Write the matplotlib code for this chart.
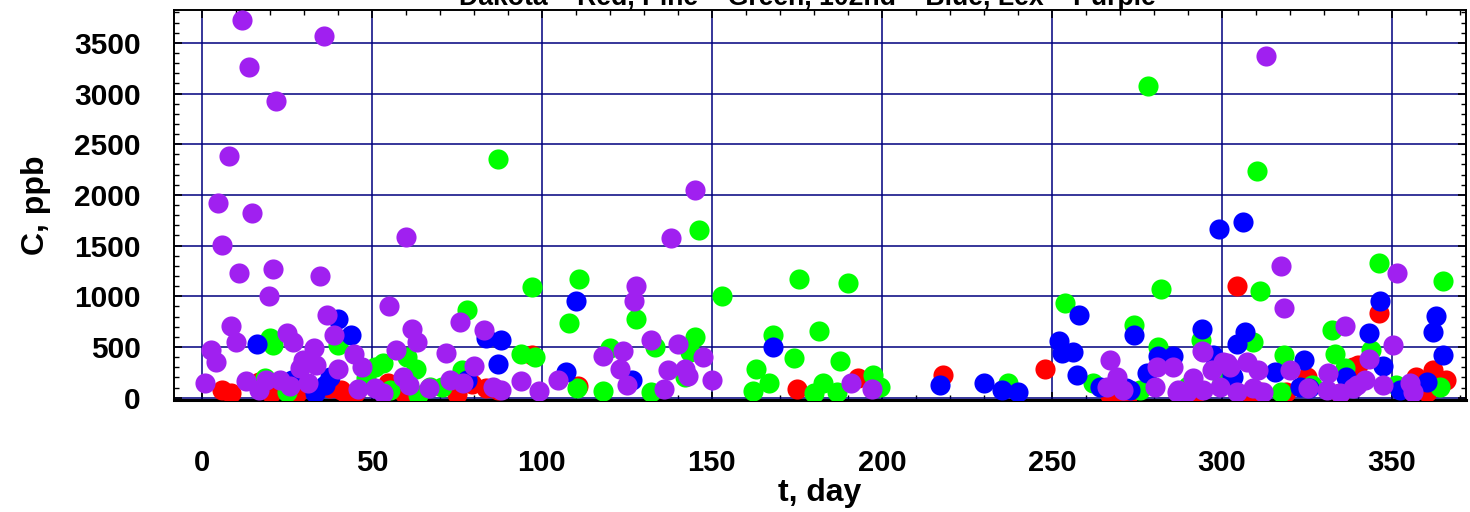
import matplotlib
matplotlib.use("Agg")

import matplotlib.pyplot as plt
from matplotlib.ticker import MultipleLocator

plt.rcParams['font.family'] = ['Liberation Sans', 'DejaVu Sans']
plt.rcParams['font.weight'] = 'bold'

# Dakota - red
dakota_t = [5.8, 8.7, 16.8, 20.2, 28, 37.8, 40.8, 42.7, 44.9, 54.8, 59.4, 74.9, 79.5,
            83.7, 87.2, 97, 110.5, 174.9, 193, 218, 248.1, 267.1, 272, 292.4, 304.3,
            308.2, 311.2, 318.8, 324.9, 334.7, 338.6, 340, 346.3, 357.1, 360.2, 362.2, 366]
dakota_c = [76, 49, 158, 43, 49, 92, 76, 27, 43, 142, 43, 35, 130,
            92, 76, 420, 115, 83, 191, 224, 283, 27, 10, 47, 1102,
            43, 59, 57, 207, 43, 306, 322, 838, 207, 59, 273, 175]

# Pine - green
pine_t = [18.5, 20, 21, 24.9, 40.1, 48.4, 50.9, 53.3, 55.3, 60.2,
          63.1, 63.6, 67.1, 70.5, 76.4, 77.9, 87.1, 94, 97.1, 98,
          108, 110.2, 111, 117.9, 120, 127.8, 132, 133.2, 142, 143.5,
          145, 146.2, 153, 162.2, 163.1, 166.7, 168, 174.1, 175.5, 180,
          181.4, 182.7, 186.9, 187.8, 190, 197.3, 199.4, 237.2, 254, 262.2,
          274.1, 276, 278.2, 281.1, 282.1, 290, 294, 300, 309.2, 310.4,
          311.2, 317.4, 318.2, 326.4, 332.3, 333.2, 336.2, 344, 346.3, 351.2,
          364.1, 365.1]
pine_c = [191, 586, 520, 59, 520, 191, 306, 339, 76, 405,
          283, 27, 109, 109, 273, 865, 2351, 431, 1088, 398,
          740, 92, 1168, 69, 487, 773, 59, 497, 207, 454,
          596, 1654, 1003, 69, 280, 142, 618, 389, 1168, 49,
          658, 142, 59, 365, 1134, 224, 109, 142, 931, 142,
          717, 76, 3077, 503, 1072, 120, 569, 160, 552, 2239,
          1052, 59, 421, 125, 668, 428, 290, 470, 1325, 125,
          109, 1151]

# 102nd - blue
st102_t = [16.1, 26.4, 33.2, 36.2, 37.6, 40.1, 44, 77.9, 83.7, 87.2,
           88, 107, 110, 126.4, 168, 217.1, 230.1, 235.2, 240.1, 252.1,
           253.1, 256.1, 257.3, 258, 264.1, 271.7, 272.9, 274.1, 277.9, 281.1,
           285.5, 294.1, 297.5, 299.1, 302.9, 303.3, 304.3, 306.3, 306.8, 315.6,
           323, 324.2, 325.5, 336.4, 343.2, 346.5, 347.4, 352.4, 360.2, 362.2,
           363.1, 365.1]
st102_c = [527, 175, 43, 125, 207, 773, 618, 175, 592, 329,
           569, 256, 954, 175, 503, 125, 148, 76, 59, 562,
           438, 454, 224, 816, 109, 92, 76, 618, 240, 411,
           411, 675, 421, 1660, 224, 207, 527, 1730, 651, 256,
           109, 372, 92, 207, 635, 954, 313, 76, 158, 651,
           806, 421]

# Lex - purple
lex_t = [0.9, 2.7, 4.1, 4.7, 5.9, 7.9, 8.7, 9.9, 10.9, 11.8,
         12.9, 13.8, 14.7, 16.9, 19, 19.7, 20.9, 21.8, 22.9, 24.9,
         25.9, 26.9, 28.8, 29.8, 31.3, 32.9, 33.7, 34.7, 35.9, 36.9,
         38.8, 39.9, 44.8, 46, 47, 50.9, 53.3, 54.9, 57, 59.2,
         59.9, 60.9, 61.9, 63.3, 66.8, 71.9, 72.9, 76, 76.9, 79.9,
         82.9, 85.7, 88.1, 94, 99.2, 104.8, 117.9, 123, 124, 124.9,
         127, 127.8, 132, 136, 137, 138.1, 140.1, 142.1, 143.1, 145,
         147.4, 149.9, 191, 197.2, 266.1, 267.1, 269.2, 271, 280.3, 280.8,
         285.7, 286.7, 287.2, 289.6, 291.6, 294.2, 294.3, 294.5, 297, 299.4,
         300.4, 301.4, 302.4, 304.3, 307.3, 309.1, 310.7, 312.1, 313.1, 317.3,
         318.2, 320, 325.4, 330.9, 331.3, 334.7, 336.2, 338.5, 339.6, 342.1,
         343.3, 347.4, 350.2, 351.4, 355.3, 356.3]
lex_c = [148, 473, 349, 1918, 1504, 2382, 704, 549, 1229, 3725,
         165, 3260, 1820, 76, 175, 1006, 1268, 2925, 175, 635,
         115, 552, 290, 372, 142, 487, 322, 1197, 3567, 816,
         618, 283, 431, 86, 306, 92, 43, 904, 470, 207,
         1585, 125, 675, 552, 92, 438, 175, 750, 142, 313,
         668, 109, 76, 162, 66, 175, 411, 280, 461, 125,
         951, 1105, 569, 83, 273, 1578, 527, 280, 214, 2045,
         405, 175, 142, 83, 109, 372, 207, 76, 109, 306,
         306, 59, 76, 59, 191, 461, 454, 76, 273, 109,
         355, 339, 306, 59, 355, 92, 273, 59, 3370, 1302,
         882, 273, 92, 80, 240, 43, 710, 100, 125, 175,
         382, 125, 520, 1233, 142, 59]

fig = plt.figure(figsize=(14.7, 5.12), dpi=100)
ax = fig.add_axes([174 / 1470, 112 / 512, 1292 / 1470, 390 / 512])

ms = 210
ax.scatter(dakota_t, dakota_c, s=ms, color='#ff0000', linewidths=0, zorder=3)
ax.scatter(pine_t, pine_c, s=ms, color='#00ff00', linewidths=0, zorder=3)
ax.scatter(st102_t, st102_c, s=ms, color='#0000ff', linewidths=0, zorder=3)
ax.scatter(lex_t, lex_c, s=ms, color='#a020f0', linewidths=0, zorder=3)

ax.set_xlim(-8.2, 371.8)
ax.set_ylim(-23, 3824)

ax.xaxis.set_major_locator(MultipleLocator(50))
ax.xaxis.set_minor_locator(MultipleLocator(10))
ax.yaxis.set_major_locator(MultipleLocator(500))
ax.yaxis.set_minor_locator(MultipleLocator(100))

ax.set_axisbelow(True)
ax.grid(True, which='major', color='#00007f', linewidth=1.1)

ax.tick_params(which='both', direction='in', top=True, right=True, colors='black')
ax.tick_params(which='major', length=6, width=1.2)
ax.tick_params(which='minor', length=3.5, width=1.0)
ax.tick_params(axis='x', which='major', pad=35, labelsize=21)
ax.tick_params(axis='y', which='major', pad=24, labelsize=21.5)
for lab in ax.get_xticklabels() + ax.get_yticklabels():
    lab.set_fontweight('bold')

for side in ['left', 'top', 'right']:
    ax.spines[side].set_linewidth(1.4)
ax.spines['bottom'].set_linewidth(2.2)

ax.set_xlabel("t, day", fontsize=23, fontweight='bold')
ax.set_ylabel("C, ppb", fontsize=23, fontweight='bold')
ax.xaxis.set_label_coords(0.5, -0.2)
ax.yaxis.set_label_coords(-0.095, 0.5)

# title sits mostly above the top edge, as in the original
fig.text(807 / 1470, 1 - 5 / 512, "Dakota \u2013 Red, Pine \u2013 Green, 102nd \u2013 Blue, Lex \u2013 Purple",
         ha='center', va='baseline', fontsize=19.2, fontweight='bold')

plt.savefig("out.png", dpi=100)
